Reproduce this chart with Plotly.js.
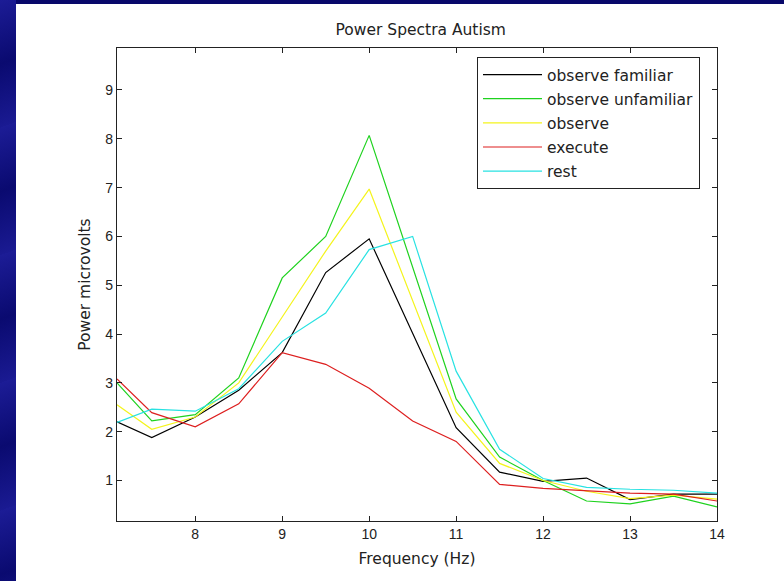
<!DOCTYPE html>
<html>
<head>
<meta charset="utf-8">
<script src="https://cdn.plot.ly/plotly-3.0.1.min.js"></script>
<style>
  html, body { margin: 0; padding: 0; width: 784px; height: 581px; overflow: hidden; }
  body { background: #08086a; position: relative; }
  #stripe {
    position: absolute; left: 0; top: 0; width: 16px; height: 581px;
    background: repeating-linear-gradient(160deg, #1c1c96 0px, #0a0a70 60px, #1a1a92 120px);
  }
  #chart { position: absolute; left: 16px; top: 4px; width: 768px; height: 577px; background: #fff; }
</style>
</head>
<body>
<div id="stripe"></div>
<div id="chart"></div>
<script>
const freq = [7.1, 7.5, 8, 8.5, 9, 9.5, 10, 10.5, 11, 11.5, 12, 12.5, 13, 13.5, 14];
const observeFamiliar   = [2.20, 1.88, 2.30, 2.85, 3.62, 5.26, 5.95, 4.00, 2.08, 1.17, 0.98, 1.05, 0.61, 0.72, 0.72];
const observeUnfamiliar = [3.00, 2.22, 2.35, 3.10, 5.15, 6.00, 8.07, 5.37, 2.67, 1.48, 1.00, 0.58, 0.52, 0.68, 0.46];
const observe           = [2.55, 2.05, 2.30, 3.00, 4.35, 5.70, 6.97, 4.70, 2.40, 1.35, 1.00, 0.78, 0.63, 0.70, 0.62];
const execute           = [3.08, 2.39, 2.10, 2.57, 3.62, 3.38, 2.89, 2.22, 1.80, 0.92, 0.84, 0.79, 0.74, 0.72, 0.58];
const rest              = [2.19, 2.46, 2.42, 2.88, 3.85, 4.43, 5.73, 6.00, 3.24, 1.64, 1.04, 0.86, 0.82, 0.80, 0.74];
const seriesNames = ["observe familiar", "observe unfamiliar", "observe", "execute", "rest"];
const xTicks = [8, 9, 10, 11, 12, 13, 14];
const yTicks = [1, 2, 3, 4, 5, 6, 7, 8, 9];

const seriesData = [observeFamiliar, observeUnfamiliar, observe, execute, rest];
const colors = ["#000000", "#1ed21e", "#f4f41c", "#dd1f1f", "#28e2e2"];

const traces = seriesData.map((ys, i) => ({
  x: freq, y: ys, type: "scatter", mode: "lines",
  name: seriesNames[i], legendgroup: "g" + i,
  line: { color: colors[i], width: 1.2 }
}));

const FONT = "Liberation Sans, Arial, sans-serif";
const WIDE = "DejaVu Sans, Verdana, sans-serif";
const axisCommon = {
  showgrid: false, zeroline: false, showline: true, mirror: "allticks",
  linecolor: "#222", linewidth: 1.2, ticks: "inside", ticklen: 5, tickcolor: "#222",
  tickfont: { family: FONT, size: 14, color: "#222" }
};

const layout = {
  width: 768, height: 577,
  margin: { l: 101, r: 67, t: 44, b: 60 },
  paper_bgcolor: "#ffffff", plot_bgcolor: "#ffffff",
  title: { text: "Power Spectra Autism", x: 0.527, xanchor: "center", y: 0.955, yanchor: "middle",
           font: { family: WIDE, size: 15.5, color: "#222" } },
  xaxis: Object.assign({}, axisCommon, {
    range: [7.1, 14], tickvals: xTicks, ticktext: xTicks.map(String),
    title: { text: "Frequency (Hz)", standoff: 12, font: { family: WIDE, size: 15.5, color: "#222" } }
  }),
  yaxis: Object.assign({}, axisCommon, {
    range: [0.17, 9.86], tickvals: yTicks, ticktext: yTicks.map(String),
    title: { text: "Power microvolts", standoff: 10, font: { family: WIDE, size: 15.5, color: "#222" } }
  }),
  showlegend: true,
  legend: {
    x: 0.6, y: 0.981, xanchor: "left", yanchor: "top",
    bgcolor: "#ffffff", bordercolor: "#222", borderwidth: 1,
    font: { family: WIDE, size: 15.5, color: "#222" },
    itemwidth: 59, tracegroupgap: 1, traceorder: "grouped"
  }
};

Plotly.newPlot("chart", traces, layout, { displayModeBar: false, staticPlot: true });
</script>
</body>
</html>
